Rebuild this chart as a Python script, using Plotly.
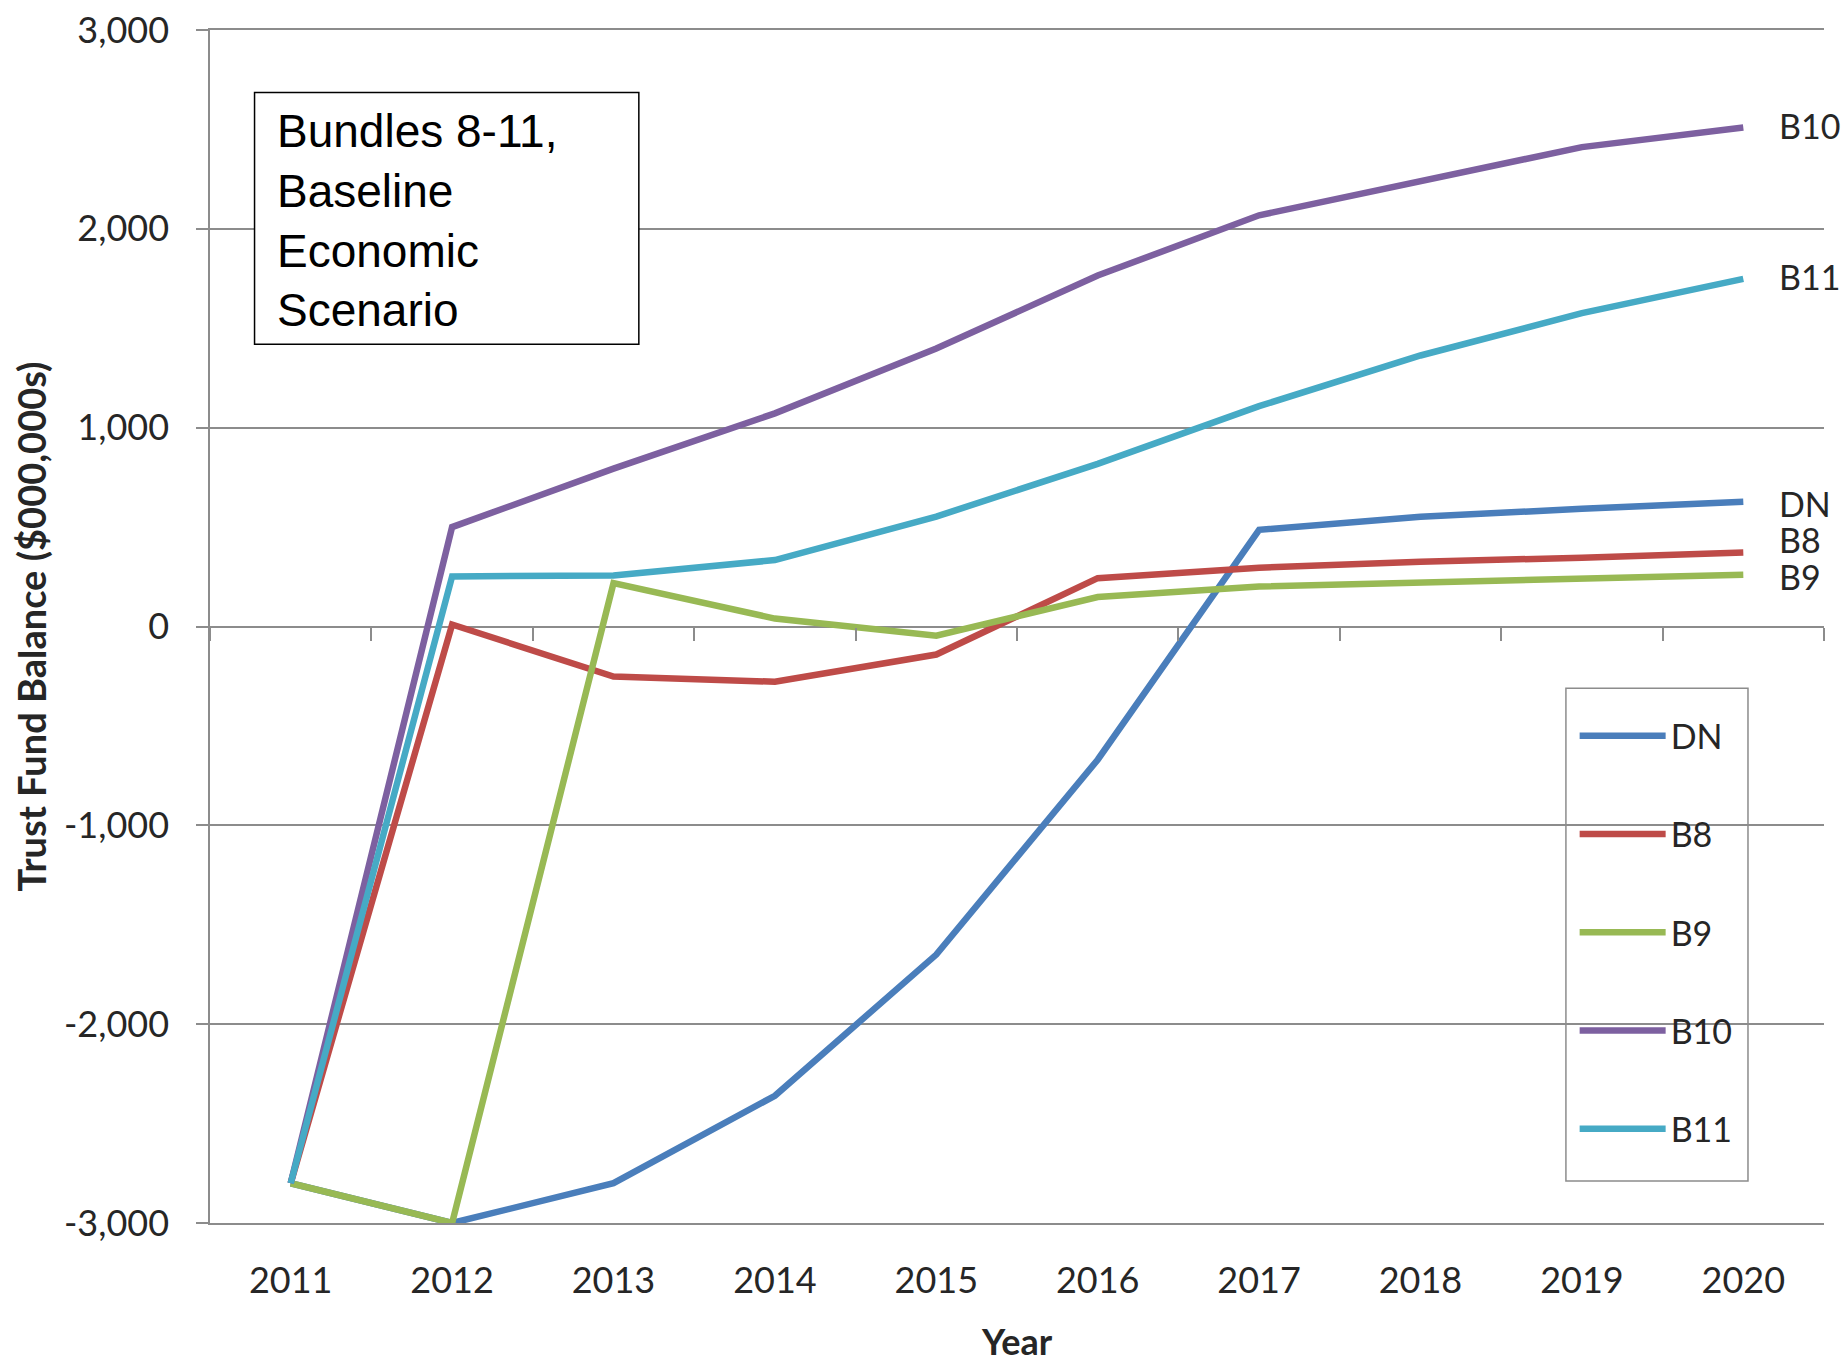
import plotly.graph_objects as go

# Trust fund balance projections ($000,000s), baseline economic scenario
years = [2011, 2012, 2013, 2014, 2015, 2016, 2017, 2018, 2019, 2020]
series_names = ["DN", "B8", "B9", "B10", "B11"]
dn = [-2800, -3000, -2800, -2360, -1650, -670, 486, 552, 592, 627]
b8 = [-2800, 10, -252, -278, -141, 243, 296, 326, 346, 372]
b9 = [-2800, -3000, 218, 40, -46, 148, 201, 219, 238, 260]
b10 = [-2800, 500, 794, 1072, 1398, 1765, 2068, 2239, 2411, 2510]
b11 = [-2800, 252, 257, 334, 553, 818, 1108, 1363, 1576, 1748]
colors = ["#4A7EBB", "#BE4B48", "#98B954", "#7D60A0", "#46AAC5"]
# small vertical nudges for the end-of-line labels so they don't collide
label_nudge = [-2, 13, -2, 2, 2]
y_ticks = [-3000, -2000, -1000, 0, 1000, 2000, 3000]
y_tick_text = ["-3,000", "-2,000", "-1,000", "0", "1,000", "2,000", "3,000"]

values = [dn, b8, b9, b10, b11]
GRID = "#8C8C8C"
INK = "#262626"
tick_font = dict(family="Lato", size=36, color=INK)
label_font = dict(family="Lato", size=34, color=INK)

fig = go.Figure()
for name, vals, col in zip(series_names, values, colors):
    fig.add_trace(go.Scatter(
        x=years, y=vals, name=name, mode="lines", legendgroup=name,
        line=dict(color=col, width=6.5),
    ))

# carrier trace for the category-boundary ticks on the zero crossing axis
fig.add_trace(go.Scatter(
    x=years, y=dn, xaxis="x2", yaxis="y", mode="lines",
    line=dict(width=0), opacity=0, showlegend=False, hoverinfo="skip",
))

# series names at the right end of each line
for name, vals, nudge in zip(series_names, values, label_nudge):
    fig.add_annotation(
        x=years[-1], y=vals[-1], text=name, showarrow=False,
        xanchor="left", yanchor="middle", xshift=34, yshift=nudge,
        font=label_font,
    )

# scenario caption box
fig.add_shape(type="rect", xref="paper", yref="paper",
              x0=0.0276, x1=0.2657, y0=0.7365, y1=0.9476,
              line=dict(color="black", width=1.5), fillcolor="white",
              layer="above")
fig.add_annotation(
    xref="paper", yref="paper", x=0.0403, y=0.840,
    xanchor="left", yanchor="middle", align="left", showarrow=False,
    text="Bundles 8-11,<br>Baseline<br>Economic<br>Scenario",
    font=dict(family="Liberation Sans", size=46, color="black"),
)

# white legend frame (sits over the gridlines, under the legend entries)
fig.add_shape(type="rect", xref="paper", yref="paper",
              x0=0.8401, x1=0.9529, y0=0.0352, y1=0.4483,
              line=dict(color=GRID, width=1.5), fillcolor="white",
              layer="below")

fig.update_layout(
    width=1848, height=1363,
    margin=dict(l=210, r=24, t=30, b=140, autoexpand=False),
    paper_bgcolor="white", plot_bgcolor="white",
    showlegend=True,
    legend=dict(
        x=0.8455, y=0.4323, xanchor="left", yanchor="top",
        bgcolor="rgba(0,0,0,0)", borderwidth=0,
        font=label_font, tracegroupgap=51, itemwidth=86,
    ),
    xaxis=dict(
        range=[2010.5, 2020.5], tickmode="array", tickvals=years,
        ticks="", showgrid=False, zeroline=False, automargin=False,
        showline=True, mirror=True, linecolor=GRID, linewidth=1.5,
        tickfont=tick_font, ticklabelstandoff=25,
        title=dict(text="<b>Year</b>", font=dict(family="Lato", size=36, color=INK), standoff=40),
    ),
    xaxis2=dict(
        overlaying="x", matches="x", anchor="free", position=0.5,
        tickmode="array", tickvals=[y + 0.5 for y in [2010] + years],
        ticks="outside", ticklen=13, tickwidth=1.5, tickcolor=GRID,
        showticklabels=False, showgrid=False, showline=False, zeroline=False,
        automargin=False,
    ),
    yaxis=dict(
        range=[-3000, 3000], tickmode="array", tickvals=y_ticks, ticktext=y_tick_text,
        tickfont=tick_font, automargin=False,
        showgrid=True, gridcolor=GRID, gridwidth=1.5,
        zeroline=True, zerolinecolor=GRID, zerolinewidth=1.5,
        showline=True, linecolor=GRID, linewidth=1.5,
        ticks="outside", ticklen=12, tickwidth=1.5, tickcolor=GRID,
        ticklabelstandoff=20,
        title=dict(text="<b>Trust Fund Balance ($000,000s)</b>",
                   font=dict(family="Lato", size=38, color=INK), standoff=6),
    ),
)

fig.write_html("out.html")
